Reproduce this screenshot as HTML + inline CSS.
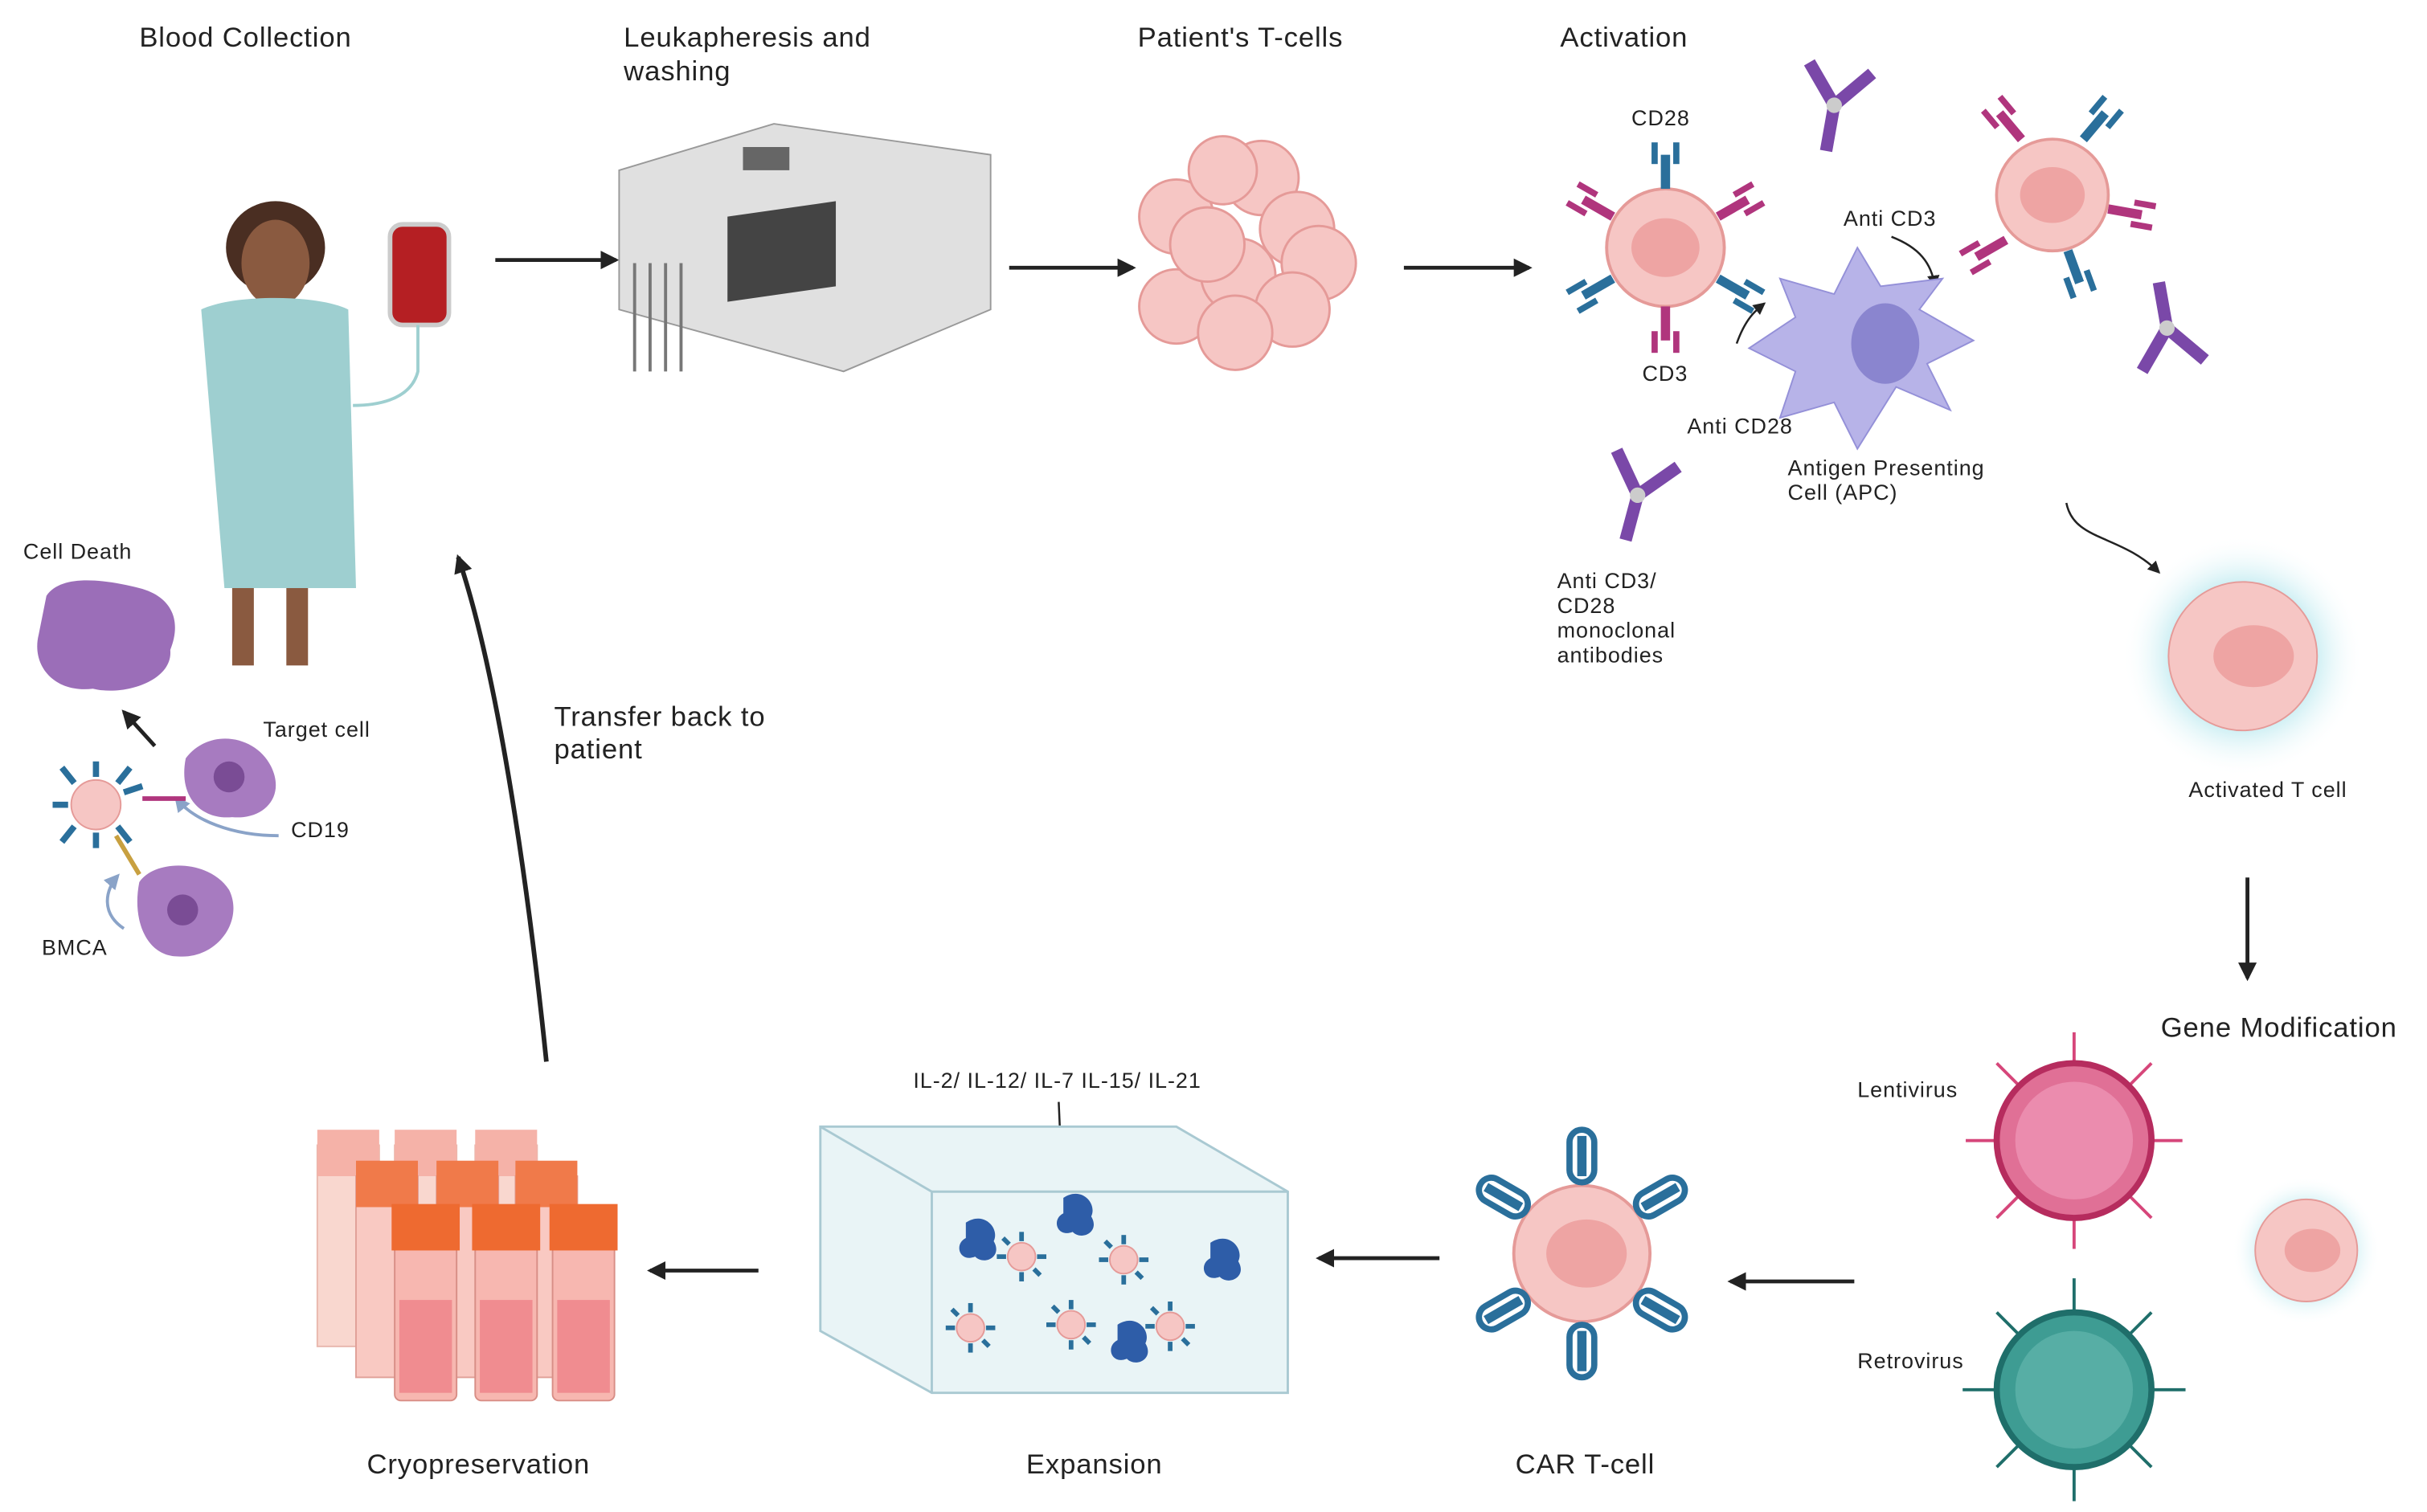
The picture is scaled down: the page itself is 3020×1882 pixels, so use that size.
<!DOCTYPE html>
<html><head><meta charset="utf-8"><style>
html,body{margin:0;padding:0;background:#fff}
svg{display:block}
text{font-family:"Liberation Sans",sans-serif;fill:#222}
.big{font-size:18px;letter-spacing:0.45px}
.sm{font-size:14px;letter-spacing:0.5px}
</style></head><body>
<svg width="3020" height="1882" viewBox="0 0 1568 977" preserveAspectRatio="none" xmlns="http://www.w3.org/2000/svg">
<defs>
<marker id="ah" markerUnits="userSpaceOnUse" markerWidth="14" markerHeight="14" refX="10" refY="6" orient="auto"><path d="M0,0 L12,6 L0,12 Z" fill="#222"/></marker>
<marker id="ahs" markerUnits="userSpaceOnUse" markerWidth="10" markerHeight="10" refX="7" refY="4" orient="auto"><path d="M0,0 L8,4 L0,8 Z" fill="#222"/></marker>
<marker id="ahb" markerUnits="userSpaceOnUse" markerWidth="12" markerHeight="12" refX="8" refY="5" orient="auto"><path d="M0,0 L10,5 L0,10 Z" fill="#8aa3c8"/></marker>
<radialGradient id="glow"><stop offset="0.55" stop-color="#bfeaf0"/><stop offset="1" stop-color="#fff" stop-opacity="0"/></radialGradient>
<g id="tc"><circle r="38" fill="#f6c6c4" stroke="#e59a98" stroke-width="2"/><ellipse rx="22" ry="19" fill="#eea4a3"/></g>
<g id="ab"><rect x="-3" y="-22" width="6" height="22" fill="#2a6f9b"/><rect x="-9" y="-30" width="4" height="14" fill="#2a6f9b"/><rect x="5" y="-30" width="4" height="14" fill="#2a6f9b"/></g>
<g id="abm"><rect x="-3" y="-22" width="6" height="22" fill="#b0357d"/><rect x="-9" y="-30" width="4" height="14" fill="#b0357d"/><rect x="5" y="-30" width="4" height="14" fill="#b0357d"/></g>
<g id="mab"><rect x="-4" y="0" width="8" height="30" fill="#7a48a8"/><rect x="-4" y="-32" width="8" height="32" fill="#7a48a8" transform="rotate(-40)"/><rect x="-4" y="-32" width="8" height="32" fill="#7a48a8" transform="rotate(40)"/><circle r="5" fill="#ccc"/></g>
<g id="car"><rect x="-8" y="-34" width="16" height="34" rx="8" fill="none" stroke="#2a6f9b" stroke-width="4"/><rect x="-3" y="-30" width="6" height="26" fill="#2a6f9b"/></g>
<g id="small"><circle r="9" fill="#f6c6c4" stroke="#e59a98"/><g stroke="#2a6f9b" stroke-width="3"><line x1="0" y1="-10" x2="0" y2="-16"/><line x1="0" y1="10" x2="0" y2="16"/><line x1="-10" y1="0" x2="-16" y2="0"/><line x1="10" y1="0" x2="16" y2="0"/><line x1="8" y1="8" x2="12" y2="12"/><line x1="-8" y1="-8" x2="-12" y2="-12"/></g></g>
<g id="blob"><path d="M-8,-12 C4,-20 14,-8 10,0 C16,10 4,16 -2,10 C-12,14 -16,2 -8,-2 Z" fill="#2e5da8"/></g>
</defs>

<g class="big">
<text x="90" y="30">Blood Collection</text>
<text x="403" y="30">Leukapheresis and</text><text x="403" y="52">washing</text>
<text x="735" y="30">Patient's T-cells</text>
<text x="1008" y="30">Activation</text>
<text x="1396" y="670">Gene Modification</text>
<text x="979" y="952">CAR T-cell</text>
<text x="663" y="952">Expansion</text>
<text x="237" y="952">Cryopreservation</text>
<text x="358" y="469">Transfer back to</text><text x="358" y="490">patient</text>
</g>
<g class="sm">
<text x="1054" y="81">CD28</text><text x="1061" y="246">CD3</text>
<text x="1191" y="146">Anti CD3</text><text x="1090" y="280">Anti CD28</text>
<text x="1155" y="307">Antigen Presenting</text><text x="1155" y="323">Cell (APC)</text>
<text x="1006" y="380">Anti CD3/</text><text x="1006" y="396">CD28</text><text x="1006" y="412">monoclonal</text><text x="1006" y="428">antibodies</text>
<text x="1414" y="515">Activated T cell</text>
<text x="1200" y="709">Lentivirus</text><text x="1200" y="884">Retrovirus</text>
<text x="590" y="703">IL-2/ IL-12/ IL-7 IL-15/ IL-21</text>
<text x="15" y="361">Cell Death</text><text x="170" y="476">Target cell</text>
<text x="188" y="541">CD19</text><text x="27" y="617">BMCA</text>
</g>

<g stroke="#222" stroke-width="2.5" fill="none" marker-end="url(#ah)">
<line x1="320" y1="168" x2="398" y2="168"/>
<line x1="652" y1="173" x2="732" y2="173"/>
<line x1="907" y1="173" x2="988" y2="173"/>
<line x1="1452" y1="567" x2="1452" y2="632"/>
<line x1="1198" y1="828" x2="1118" y2="828"/>
<line x1="930" y1="813" x2="852" y2="813"/>
<line x1="490" y1="821" x2="420" y2="821"/>
<path d="M353,686 C340,560 320,430 296,360" stroke-width="3"/>
<line x1="100" y1="482" x2="80" y2="460"/>
</g>
<g stroke="#222" stroke-width="1.3" fill="none" marker-end="url(#ahs)">
<path d="M1335,325 C1340,350 1370,345 1395,370"/>
<path d="M1122,222 C1128,205 1135,200 1140,196"/>
<path d="M1222,153 C1240,160 1248,170 1250,185"/>
<path d="M684,712 L686,758"/>
</g>
<g stroke="#8aa3c8" stroke-width="2" fill="none" marker-end="url(#ahb)">
<path d="M180,540 C150,540 125,530 114,516"/>
<path d="M80,600 C65,590 68,575 76,566"/>
</g>

<!-- patient -->
<ellipse cx="178" cy="160" rx="32" ry="30" fill="#4a2e22"/>
<ellipse cx="178" cy="170" rx="22" ry="28" fill="#8a5a40"/>
<path d="M130,200 C150,190 205,190 225,200 L230,380 L145,380 Z" fill="#9ecfd0"/>
<rect x="150" y="380" width="14" height="50" fill="#8a5a40"/><rect x="185" y="380" width="14" height="50" fill="#8a5a40"/>
<rect x="252" y="145" width="38" height="65" rx="8" fill="#b51f23" stroke="#ccc" stroke-width="3"/>
<path d="M270,210 L270,240 C265,260 240,262 228,262" stroke="#9ecfd0" stroke-width="2" fill="none"/>

<!-- machine -->
<path d="M400,110 L500,80 L640,100 L640,200 L545,240 L400,200 Z" fill="#e0e0e0" stroke="#999"/>
<path d="M470,140 L540,130 L540,185 L470,195 Z" fill="#444"/>
<rect x="480" y="95" width="30" height="15" fill="#666"/>
<g stroke="#777" stroke-width="2"><line x1="410" y1="170" x2="410" y2="240"/><line x1="420" y1="170" x2="420" y2="240"/><line x1="430" y1="170" x2="430" y2="240"/><line x1="440" y1="170" x2="440" y2="240"/></g>

<g fill="#f6c6c4" stroke="#e59a98" stroke-width="1.5">
<circle cx="760" cy="140" r="24"/><circle cx="815" cy="115" r="24"/><circle cx="838" cy="148" r="24"/><circle cx="852" cy="170" r="24"/>
<circle cx="760" cy="198" r="24"/><circle cx="800" cy="178" r="24"/><circle cx="780" cy="158" r="24"/><circle cx="835" cy="200" r="24"/><circle cx="798" cy="215" r="24"/><circle cx="790" cy="110" r="22"/>
</g>

<use href="#tc" x="1076" y="160"/>
<use href="#ab" transform="translate(1076,122)"/><use href="#abm" transform="translate(1076,198) rotate(180)"/>
<use href="#abm" transform="translate(1042,140) rotate(-60)"/><use href="#ab" transform="translate(1042,180) rotate(-120)"/>
<use href="#abm" transform="translate(1110,140) rotate(60)"/><use href="#ab" transform="translate(1110,180) rotate(120)"/>
<path d="M1200,160 L1215,185 L1255,180 L1240,200 L1275,220 L1245,235 L1260,265 L1225,250 L1200,290 L1185,260 L1150,270 L1160,240 L1130,225 L1160,205 L1150,180 L1185,190 Z" fill="#b7b3e8" stroke="#9490d8"/>
<ellipse cx="1218" cy="222" rx="22" ry="26" fill="#8a85cf"/>
<use href="#tc" transform="translate(1326,126) scale(0.95)"/>
<use href="#abm" transform="translate(1306,90) rotate(-40)"/><use href="#ab" transform="translate(1346,90) rotate(40)"/>
<use href="#abm" transform="translate(1362,135) rotate(100)"/><use href="#ab" transform="translate(1336,162) rotate(160)"/>
<use href="#abm" transform="translate(1296,155) rotate(-120)"/>
<use href="#mab" transform="translate(1185,68) rotate(10)"/>
<use href="#mab" transform="translate(1400,212) rotate(170)"/>
<use href="#mab" transform="translate(1058,320) rotate(15)"/>

<circle cx="1449" cy="424" r="78" fill="url(#glow)"/>
<circle cx="1449" cy="424" r="48" fill="#f6c6c4" stroke="#e59a98"/><ellipse cx="1456" cy="424" rx="26" ry="20" fill="#eea4a3"/>

<g stroke="#d6467a" stroke-width="2">
<line x1="1270" y1="737" x2="1410" y2="737"/><line x1="1340" y1="667" x2="1340" y2="807"/><line x1="1290" y1="687" x2="1390" y2="787"/><line x1="1390" y1="687" x2="1290" y2="787"/>
</g>
<circle cx="1340" cy="737" r="50" fill="#e07096" stroke="#b62c5e" stroke-width="4"/><circle cx="1340" cy="737" r="38" fill="#eb8cae"/>
<g stroke="#1f6e6a" stroke-width="2">
<line x1="1268" y1="898" x2="1412" y2="898"/><line x1="1340" y1="826" x2="1340" y2="970"/><line x1="1290" y1="848" x2="1390" y2="948"/><line x1="1390" y1="848" x2="1290" y2="948"/>
</g>
<circle cx="1340" cy="898" r="50" fill="#3e9c93" stroke="#1f6e6a" stroke-width="4"/><circle cx="1340" cy="898" r="38" fill="#57aea5"/>
<circle cx="1490" cy="808" r="48" fill="url(#glow)"/>
<circle cx="1490" cy="808" r="33" fill="#f6c6c4" stroke="#e59a98"/><ellipse cx="1494" cy="808" rx="18" ry="14" fill="#eea4a3"/>

<circle cx="1022" cy="810" r="44" fill="#f6c6c4" stroke="#e59a98" stroke-width="2"/><ellipse cx="1025" cy="810" rx="26" ry="22" fill="#eea4a3"/>
<use href="#car" transform="translate(1022,764)"/><use href="#car" transform="translate(1022,856) rotate(180)"/>
<use href="#car" transform="translate(1058,782) rotate(60)"/><use href="#car" transform="translate(1058,838) rotate(120)"/>
<use href="#car" transform="translate(986,782) rotate(-60)"/><use href="#car" transform="translate(986,838) rotate(-120)"/>

<path d="M530,728 L760,728 L832,770 L832,900 L602,900 L530,860 Z" fill="#e9f4f6" stroke="#a9c9d2" stroke-width="1.5"/>
<path d="M530,728 L602,770 L832,770 M602,770 L602,900" stroke="#a9c9d2" fill="none" stroke-width="1.5"/>
<use href="#blob" x="632" y="802"/><use href="#blob" x="695" y="786"/><use href="#blob" x="790" y="815"/><use href="#blob" x="730" y="868"/>
<use href="#small" x="660" y="812"/><use href="#small" x="726" y="814"/><use href="#small" x="627" y="858"/><use href="#small" x="692" y="856"/><use href="#small" x="756" y="857"/>

<g>
<g fill="#f9d7cf" stroke="#e8b8ae"><rect x="205" y="740" width="40" height="130"/><rect x="255" y="740" width="40" height="130"/><rect x="307" y="740" width="40" height="130"/></g>
<g fill="#f5b2a8"><rect x="205" y="730" width="40" height="30"/><rect x="255" y="730" width="40" height="30"/><rect x="307" y="730" width="40" height="30"/></g>
<g fill="#f9c9c2" stroke="#e0a098"><rect x="230" y="760" width="40" height="130"/><rect x="282" y="760" width="40" height="130"/><rect x="333" y="760" width="40" height="130"/></g>
<g fill="#f07a4a"><rect x="230" y="750" width="40" height="30"/><rect x="282" y="750" width="40" height="30"/><rect x="333" y="750" width="40" height="30"/></g>
<g fill="#f7b7b0" stroke="#d88e86"><rect x="255" y="790" width="40" height="115" rx="4"/><rect x="307" y="790" width="40" height="115" rx="4"/><rect x="357" y="790" width="40" height="115" rx="4"/></g>
<g fill="#ee6a30"><rect x="253" y="778" width="44" height="30"/><rect x="305" y="778" width="44" height="30"/><rect x="355" y="778" width="44" height="30"/></g>
<g fill="#f08c90"><rect x="258" y="840" width="34" height="60"/><rect x="310" y="840" width="34" height="60"/><rect x="360" y="840" width="34" height="60"/></g>
</g>

<path d="M30,385 C40,370 70,375 90,380 C110,385 118,400 110,420 C112,440 80,450 60,445 C35,448 20,430 25,410 Z" fill="#9b6eb8"/>
<circle cx="62" cy="520" r="16" fill="#f6c6c4" stroke="#e59a98"/>
<g stroke="#2a6f9b" stroke-width="4"><line x1="62" y1="502" x2="62" y2="492"/><line x1="62" y1="538" x2="62" y2="548"/><line x1="44" y1="520" x2="34" y2="520"/><line x1="80" y1="512" x2="92" y2="508"/><line x1="48" y1="506" x2="40" y2="496"/><line x1="76" y1="534" x2="84" y2="544"/><line x1="48" y1="534" x2="40" y2="544"/><line x1="76" y1="506" x2="84" y2="496"/></g>
<line x1="92" y1="516" x2="120" y2="516" stroke="#b0357d" stroke-width="3"/>
<path d="M120,490 C135,470 165,475 175,495 C185,515 170,530 150,528 C130,530 115,515 120,490 Z" fill="#a77bc0"/><circle cx="148" cy="502" r="10" fill="#7a4c95"/>
<line x1="75" y1="540" x2="90" y2="565" stroke="#c8a040" stroke-width="3"/>
<path d="M90,570 C100,555 135,555 148,575 C158,595 140,620 115,618 C95,618 85,595 90,570 Z" fill="#a77bc0"/><circle cx="118" cy="588" r="10" fill="#7a4c95"/>
</svg>
</body></html>
